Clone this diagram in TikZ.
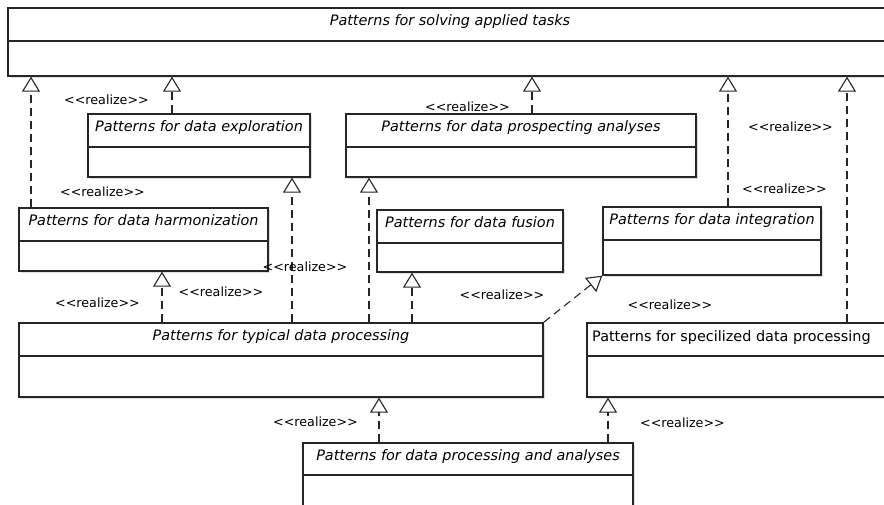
\documentclass[tikz,border=0pt]{standalone}
\usepackage{fontspec}
\setmainfont{DejaVu Sans}
\usetikzlibrary{arrows.meta,shadows}
\newcommand{\rlz}{{<}{<}realize{>}{>}}
\begin{document}
\begin{tikzpicture}[x=1pt,y=-1pt,
  umlbox/.style={draw=black!85, line width=1.3pt, fill=white, inner sep=0pt,
    drop shadow={opacity=0.25, shadow xshift=1.5pt, shadow yshift=-1.5pt}},
  divline/.style={draw=black!85, line width=1.3pt},
  boxtitle/.style={anchor=base, inner sep=0pt, font=\fontsize{14.4}{17}\selectfont\itshape},
  real/.style={draw=black!85, line width=1.1pt, dash pattern=on 8pt off 5pt,
    -{Triangle[open, width=18pt, length=15pt, line width=1.1pt]}},
  rlabel/.style={anchor=base, inner sep=0pt, font=\fontsize{12.7}{15}\selectfont}
]
\useasboundingbox (0,0) rectangle (884,504);
\clip (0,0) rectangle (884,504);

% boxes
\node[umlbox, minimum width=884pt, minimum height=68pt] (solve) at (450,42) {};
\node[umlbox, minimum width=222pt, minimum height=63pt] (explore) at (199,145.5) {};
\node[umlbox, minimum width=350pt, minimum height=63pt] (prosp) at (521,145.5) {};
\node[umlbox, minimum width=249pt, minimum height=63pt] (harm) at (143.5,239.5) {};
\node[umlbox, minimum width=186pt, minimum height=62pt] (fusion) at (470,241) {};
\node[umlbox, minimum width=218pt, minimum height=68pt] (integ) at (712,241) {};
\node[umlbox, minimum width=524pt, minimum height=74pt] (typical) at (281,360) {};
\node[umlbox, minimum width=313pt, minimum height=74pt] (spec) at (743.5,360) {};
\node[umlbox, minimum width=330pt, minimum height=87pt] (procan) at (468,486.5) {};

% dividers
\draw[divline] (solve.west |- 0,41) -- (solve.east |- 0,41);
\draw[divline] (explore.west |- 0,147) -- (explore.east |- 0,147);
\draw[divline] (prosp.west |- 0,147) -- (prosp.east |- 0,147);
\draw[divline] (harm.west |- 0,241) -- (harm.east |- 0,241);
\draw[divline] (fusion.west |- 0,243) -- (fusion.east |- 0,243);
\draw[divline] (integ.west |- 0,240) -- (integ.east |- 0,240);
\draw[divline] (typical.west |- 0,356) -- (typical.east |- 0,356);
\draw[divline] (spec.west |- 0,356) -- (spec.east |- 0,356);
\draw[divline] (procan.west |- 0,475) -- (procan.east |- 0,475);

% titles
\node[boxtitle] (tsolve) at ([yshift=-18.5pt]solve.north) {Patterns for solving applied tasks};
\node[boxtitle] (texplore) at ([yshift=-18.5pt]explore.north) {Patterns for data exploration};
\node[boxtitle] (tprosp) at ([yshift=-18.5pt]prosp.north) {Patterns for data prospecting analyses};
\node[boxtitle] (tharm) at ([yshift=-18.5pt]harm.north) {Patterns for data harmonization};
\node[boxtitle] (tfusion) at ([yshift=-18.5pt]fusion.north) {Patterns for data fusion};
\node[boxtitle] (tinteg) at ([yshift=-18.5pt]integ.north) {Patterns for data integration};
\node[boxtitle] (ttypical) at ([yshift=-18.5pt]typical.north) {Patterns for typical data processing};
\node[boxtitle, anchor=base west, font=\fontsize{14.4}{17}\selectfont\upshape] (tspec) at (592,341.5) {Patterns for specilized data processing};
\node[boxtitle] (tprocan) at ([yshift=-18.5pt]procan.north) {Patterns for data processing and analyses};

% realizations
\draw[real] (harm.north -| 31,0) -- (solve.south -| 31,0);
\draw[real] (explore.north -| 172,0) -- (solve.south -| 172,0);
\draw[real] (prosp.north -| 532,0) -- (solve.south -| 532,0);
\draw[real] (integ.north -| 728,0) -- (solve.south -| 728,0);
\draw[real] (spec.north -| 847,0) -- (solve.south -| 847,0);
\draw[real] (typical.north -| 162,0) -- (harm.south -| 162,0);
\draw[real] (typical.north -| 292,0) -- (explore.south -| 292,0);
\draw[real] (typical.north -| 369,0) -- (prosp.south -| 369,0);
\draw[real] (typical.north -| 412,0) -- (fusion.south -| 412,0);
\draw[real] (typical.north east) -- (integ.south west);
\draw[real] (procan.north -| 379,0) -- (typical.south -| 379,0);
\draw[real] (procan.north -| 608,0) -- (spec.south -| 608,0);

% labels
\node[rlabel] (r1) at (106.5,104.5) {\rlz};
\node[rlabel] (r2) at (467.5,111.5) {\rlz};
\node[rlabel] (r3) at (790.5,131.5) {\rlz};
\node[rlabel] (r4) at (102.5,196.5) {\rlz};
\node[rlabel] (r5) at (784.5,193.5) {\rlz};
\node[rlabel] (r6) at (305,271.5) {\rlz};
\node[rlabel] (r7) at (221,296.5) {\rlz};
\node[rlabel] (r8) at (97.5,307.5) {\rlz};
\node[rlabel] (r9) at (502,299.5) {\rlz};
\node[rlabel] (r10) at (670,309.5) {\rlz};
\node[rlabel] (r11) at (315.5,426.5) {\rlz};
\node[rlabel] (r12) at (682.5,427.5) {\rlz};
\end{tikzpicture}
\end{document}
